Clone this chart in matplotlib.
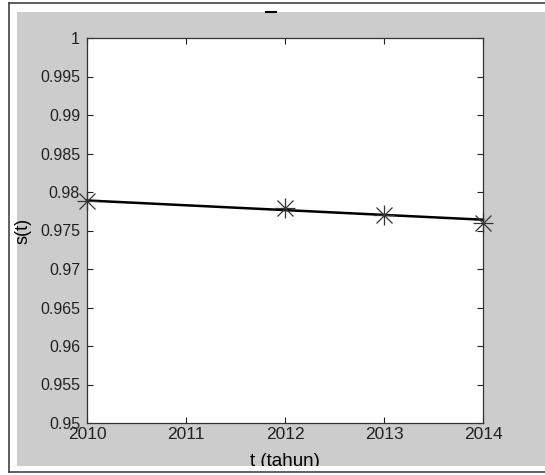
import matplotlib
matplotlib.use("Agg")
import matplotlib.pyplot as plt
from matplotlib.lines import Line2D
from matplotlib.patches import Rectangle

# observed values
years = [2010, 2012, 2013, 2014]
s_values = [0.9788, 0.9779, 0.9770, 0.9760]

# trend line (ends)
fit_years = [2010, 2014]
fit_values = [0.9789, 0.9764]

x_ticks = [2010, 2011, 2012, 2013, 2014]
y_ticks = [0.95, 0.955, 0.96, 0.965, 0.97, 0.975, 0.98, 0.985, 0.99, 0.995, 1.0]
y_labels = ["0.95", "0.955", "0.96", "0.965", "0.97", "0.975", "0.98",
            "0.985", "0.99", "0.995", "1"]

plt.rcParams["font.family"] = ["Liberation Sans", "DejaVu Sans"]

W, H = 545, 475
fig = plt.figure(figsize=(W / 100, H / 100), dpi=100)
fig.patch.set_facecolor("white")

# grey matlab figure window and the screenshot frame
fig.add_artist(Rectangle((17 / W, 1 - 466 / H), 1 - 17 / W, (466 - 12) / H,
                         transform=fig.transFigure, facecolor="#cccccc",
                         edgecolor="none", zorder=0))
# the screenshot cuts the xlabel off at the bottom of the grey window
fig.add_artist(Rectangle((10 / W, 1 - 471 / H), 1 - 10 / W, 5 / H,
                         transform=fig.transFigure, facecolor="white",
                         edgecolor="none", zorder=10))
frame = dict(transform=fig.transFigure, color="#444444", lw=1.2, zorder=11)
fig.add_artist(Line2D([9 / W, 9 / W], [1 - 472 / H, 1 - 3 / H], **frame))
fig.add_artist(Line2D([9 / W, 1], [1 - 3 / H, 1 - 3 / H], **frame))
fig.add_artist(Line2D([9 / W, 1], [1 - 472 / H, 1 - 472 / H], **frame))
fig.add_artist(Line2D([266 / W, 276 / W], [1 - 12 / H, 1 - 12 / H],
                      transform=fig.transFigure, color="black", lw=1.5))

ax = fig.add_axes([87 / W, 1 - 423 / H, (483 - 87) / W, (423 - 38) / H])
ax.set_facecolor("white")

ax.plot(fit_years, fit_values, color="black", lw=1.8, zorder=3, clip_on=False)
ax.plot(years, s_values, linestyle="none", marker="+", ms=15, mew=0.9,
        color="#333333", zorder=4, clip_on=False)
ax.plot(years, s_values, linestyle="none", marker="x", ms=11, mew=0.9,
        color="#333333", zorder=4, clip_on=False)

ax.set_xlim(2010, 2014)
ax.set_ylim(0.95, 1.0)
ax.set_xticks(x_ticks)
ax.set_xticklabels([str(x) for x in x_ticks])
ax.set_yticks(y_ticks)
ax.set_yticklabels(y_labels)

ax.tick_params(direction="in", length=4, width=0.8, top=True, right=True,
               colors="#222222")
ax.tick_params(axis="x", labelsize=12.5, pad=3)
ax.tick_params(axis="y", labelsize=11.5, pad=5)
for sp in ax.spines.values():
    sp.set_color("#333333")
    sp.set_linewidth(0.9)

ax.set_xlabel("t (tahun)", fontsize=13.5, labelpad=8)
ax.set_ylabel("s(t)", fontsize=13, labelpad=6)

fig.savefig("out.png", dpi=100)
